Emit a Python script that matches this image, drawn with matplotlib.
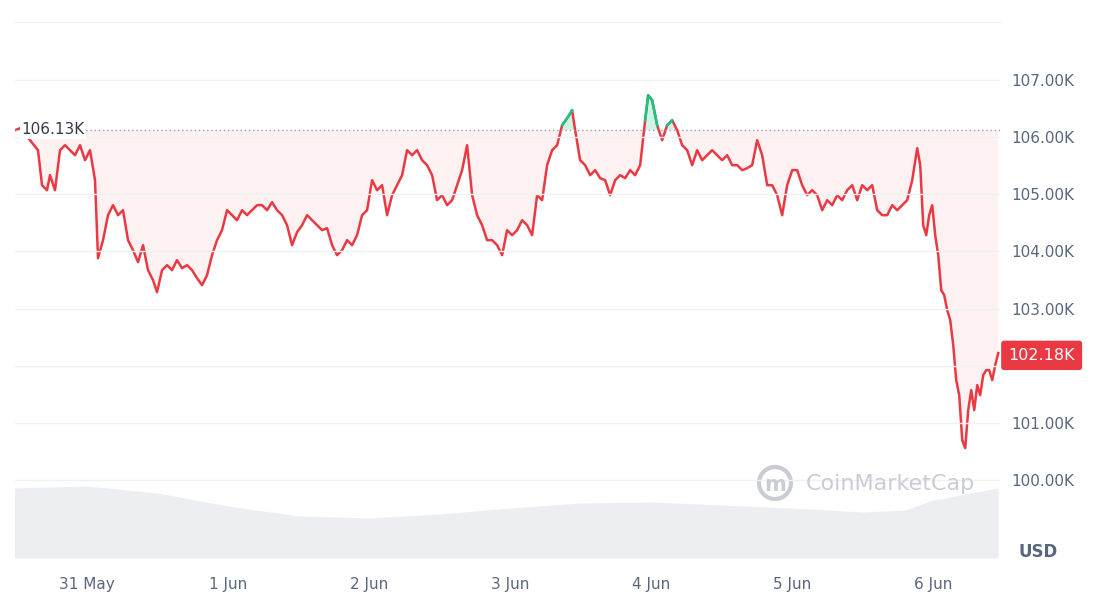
import numpy as np
import pandas as pd
import matplotlib.pyplot as plt
from matplotlib.patches import Ellipse

# price trace (pixel x positions turned into time offsets, values in K USD)
px = [15, 20, 30, 38, 42, 47, 50, 55, 60, 65, 70, 75, 80, 85, 90, 95, 98, 103, 108, 113, 118, 123, 128, 133, 138, 143, 148, 153, 157, 162, 167, 172, 177, 182, 187, 192, 197, 202, 207, 212, 217, 222, 227, 232, 237, 242, 247, 252, 257, 262, 267, 272, 277, 282, 287, 292, 297, 302, 307, 312, 317, 322, 327, 332, 337, 342, 347, 352, 357, 362, 367, 372, 377, 382, 387, 392, 397, 402, 407, 412, 417, 422, 427, 432, 437, 442, 447, 452, 457, 462, 467, 472, 477, 482, 487, 492, 497, 502, 507, 512, 517, 522, 527, 532, 537, 542, 547, 552, 557, 562, 567, 572, 575, 580, 585, 590, 595, 600, 605, 610, 615, 620, 625, 630, 635, 640, 645, 648, 652, 657, 662, 667, 672, 677, 682, 687, 692, 697, 702, 707, 712, 717, 722, 727, 732, 737, 742, 747, 752, 757, 762, 767, 772, 777, 782, 787, 792, 797, 802, 807, 812, 817, 822, 827, 832, 837, 842, 847, 852, 857, 862, 867, 872, 877, 882, 887, 892, 897, 902, 907, 912, 917, 920, 923, 926, 929, 932, 935, 938, 941, 944, 947, 950, 953, 956, 959, 962, 965, 968, 971, 974, 977, 980, 983, 986, 989, 992, 995, 998]
py = [130, 128, 140, 150, 185, 190, 175, 190, 150, 145, 150, 155, 145, 160, 150, 180, 258, 240, 215, 205, 215, 210, 240, 250, 262, 245, 270, 280, 292, 270, 265, 270, 260, 268, 265, 270, 278, 285, 275, 255, 240, 230, 210, 215, 220, 210, 215, 210, 205, 205, 210, 202, 210, 215, 225, 245, 232, 225, 215, 220, 225, 230, 228, 245, 255, 250, 240, 245, 235, 215, 210, 180, 190, 185, 215, 195, 185, 175, 150, 155, 150, 160, 165, 175, 200, 195, 205, 200, 185, 170, 145, 195, 215, 225, 240, 240, 245, 255, 230, 235, 230, 220, 225, 235, 195, 200, 165, 150, 145, 125, 118, 110, 130, 160, 165, 175, 170, 178, 180, 195, 180, 175, 178, 170, 175, 165, 120, 95, 100, 125, 140, 125, 120, 130, 145, 150, 165, 150, 160, 155, 150, 155, 160, 155, 165, 165, 170, 168, 165, 140, 155, 185, 185, 195, 215, 185, 170, 170, 185, 195, 190, 195, 210, 200, 205, 195, 200, 190, 185, 200, 185, 190, 185, 210, 215, 215, 205, 210, 205, 200, 180, 148, 165, 225, 235, 215, 205, 235, 255, 290, 295, 310, 320, 345, 380, 395, 440, 448, 410, 390, 410, 385, 395, 375, 370, 370, 380, 365, 353]
price = [107 - (y - 80) / 57.1 for y in py]
base_price = 106.13
last_price = 102.18

# volume (arbitrary units)
vol_days = [-0.52, 0.0, 0.5, 1.0, 1.5, 2.0, 2.5, 3.0, 3.5, 4.0, 4.5, 5.0, 5.5, 5.8, 6.0, 6.46]
vol = [70, 72, 65, 52, 42, 40, 44, 50, 55, 56, 53, 50, 46, 48, 58, 70]

t0 = pd.Timestamp("2025-05-31")
times = [t0 + pd.Timedelta(days=(x - 87) / 141) for x in px]
vol_times = [t0 + pd.Timedelta(days=d) for d in vol_days]
tick_days = ["31 May", "1 Jun", "2 Jun", "3 Jun", "4 Jun", "5 Jun", "6 Jun"]
ticks = [t0 + pd.Timedelta(days=i) for i in range(7)]

red = "#ea3943"
green = "#16c784"
txt = "#58667e"

fig = plt.figure(figsize=(10.95, 6), dpi=100)
ax = fig.add_axes([15 / 1095, 42 / 600, 985 / 1095, 536 / 600])
axv = ax.twinx()
axv.set_zorder(0)
ax.set_zorder(1)
ax.patch.set_visible(False)

axv.fill_between(vol_times, vol, 0, color="#eceef2", lw=0)
axv.set_ylim(0, 536)
axv.axis("off")

p = np.array(price)
ax.fill_between(times, p, base_price, where=p < base_price, interpolate=True, color=red, alpha=0.07, lw=0)
ax.fill_between(times, p, base_price, where=p >= base_price, interpolate=True, color=green, alpha=0.2, lw=0)
ax.plot(times, p, color=red, lw=1.8, zorder=1)
ax.plot(times, np.ma.masked_less(p, base_price), color=green, lw=1.8, zorder=2)

ax.axhline(base_price, color="#9aa0ab", lw=1, ls=(0, (1, 2)))
ax.text(times[0] + pd.Timedelta(hours=1), base_price, "106.13K", color="#333a45", fontsize=11,
        va="center", ha="left", bbox=dict(facecolor="white", edgecolor="none", pad=1))

ax.set_ylim(98.63, 108.02)
ax.set_xlim(times[0], times[-1] + pd.Timedelta(hours=0.3))
yt = np.arange(100, 108)
ax.set_yticks(yt)
ax.yaxis.tick_right()
# the 102.00K label is hidden behind the current-price tag
ax.set_yticklabels(["" if v == 102 else f"{v:.2f}K" for v in yt], color=txt, fontsize=11)
ax.tick_params(axis="y", length=0, pad=8)
ax.grid(axis="y", color="#eff2f5", lw=1)
ax.set_xticks(ticks)
ax.set_xticklabels(tick_days, color=txt, fontsize=11)
ax.tick_params(axis="x", length=0, pad=14)
for s in ["left", "bottom", "right"]:
    ax.spines[s].set_visible(False)
ax.spines["top"].set_color("#eff2f5")

ax.annotate("102.18K", xy=(1.0, last_price), xycoords=("axes fraction", "data"),
            xytext=(6, 0), textcoords="offset points", color="white", fontsize=11.5,
            va="center", ha="left",
            bbox=dict(boxstyle="round,pad=0.45,rounding_size=0.2", facecolor=red, edgecolor="none"))
fig.text(1038 / 1095, 1 - 552 / 600, "USD", color=txt, fontsize=12, fontweight="bold", ha="center", va="center")
fig.text(975 / 1095, 1 - 484 / 600, "CoinMarketCap", color="#c9ccd3", fontsize=16, ha="right", va="center")
logo = Ellipse((775 / 1095, 1 - 483 / 600), 32 / 1095, 32 / 600, transform=fig.transFigure, fill=False,
               edgecolor="#c9ccd3", lw=3)
fig.add_artist(logo)
fig.text(775 / 1095, 1 - 485 / 600, "m", color="#c9ccd3", fontsize=15, fontweight="bold", ha="center", va="center")

fig.savefig("out.png", dpi=100)
